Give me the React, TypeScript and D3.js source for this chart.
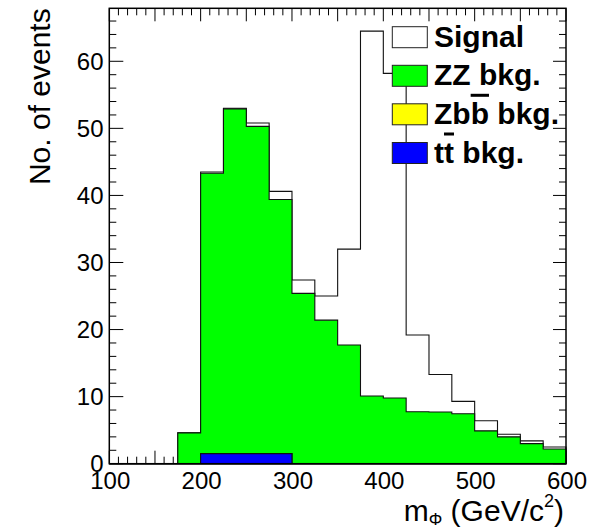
import React from "react";
import * as d3 from "d3";

// bin lower edges (GeV/c^2), bin width 25
const binLow = [100,125,150,175,200,225,250,275,300,325,350,375,400,425,450,475,500,525,550,575];
const binWidth = 25;
// stacked totals as drawn (signal+bkg, ZZ+Zbb+tt, Zbb+tt, tt)
const signalStack = [0,0,0,4.6,43.5,53.0,50.8,40.6,27.4,25.0,32.0,64.5,58.2,19.2,13.3,9.3,6.4,4.4,3.4,2.5];
const zzStack =     [0,0,0,4.6,43.3,52.9,50.3,39.4,25.4,21.4,17.7,10.1,9.8,7.75,7.7,7.45,4.9,4.0,3.0,2.2];
const zbbStack =    [0,0,0,0,1.5,1.5,1.5,1.5,0,0,0,0,0,0,0,0,0,0,0,0];
const ttStack =     [0,0,0,0,1.5,1.5,1.5,1.5,0,0,0,0,0,0,0,0,0,0,0,0];

const xTickLabels = [100,200,300,400,500,600];
const yTickLabels = [0,10,20,30,40,50,60];

const W = 606, H = 529;
const L = 109.3, R = 566, T = 8.3, B = 463.7;
const FONT = "'Liberation Sans', Arial, Helvetica, sans-serif";

const x = d3.scaleLinear().domain([100, 600]).range([L, R]);
const y = d3.scaleLinear().domain([0, 67.9]).range([B, T]);

function stepPath(vals: number[]): string {
  const pts: [number, number][] = [];
  pts.push([binLow[0], 0]);
  vals.forEach((v, i) => {
    pts.push([binLow[i], v]);
    pts.push([binLow[i] + binWidth, v]);
  });
  pts.push([binLow[binLow.length - 1] + binWidth, 0]);
  const line = d3.line<[number, number]>().x(d => x(d[0])).y(d => y(d[1]));
  return line(pts) as string;
}

const layers = [
  { vals: signalStack, fill: "#ffffff" },
  { vals: zzStack, fill: "#00ff00" },
  { vals: zbbStack, fill: "#ffff00" },
  { vals: ttStack, fill: "#0000ff" },
];

export default function App() {
  const xTicks = d3.range(100, 601, 10);
  const yTicks = d3.range(0, 67.9, 2);
  const legend = [
    { fill: "#ffffff", label: [<tspan key="a">Signal</tspan>], cy: 37.2 },
    { fill: "#00ff00", label: [<tspan key="a">ZZ bkg.</tspan>], cy: 75.8 },
    { fill: "#ffff00", label: [<tspan key="a">Zb</tspan>, <tspan key="b" style={{ textDecoration: "overline" }}>b</tspan>, <tspan key="c"> bkg.</tspan>], cy: 114.3 },
    { fill: "#0000ff", label: [<tspan key="a">t</tspan>, <tspan key="b" style={{ textDecoration: "overline" }}>t</tspan>, <tspan key="c"> bkg.</tspan>], cy: 153 },
  ];
  return (
    <svg width={W} height={H} style={{ position: "absolute", left: 0, top: 0, background: "#fff" }} fontFamily={FONT}>
      <rect x={0} y={0} width={W} height={H} fill="#fff" />
      {/* x ticks */}
      {xTicks.map(v => {
        const len = v % 50 === 0 ? 13 : 7;
        return (
          <g key={"xt" + v}>
            <line x1={x(v)} x2={x(v)} y1={B} y2={B - len} stroke="#000" strokeWidth={1} />
            <line x1={x(v)} x2={x(v)} y1={T} y2={T + len} stroke="#000" strokeWidth={1} />
          </g>
        );
      })}
      {/* y ticks */}
      {yTicks.map(v => {
        const major = Math.round(v) % 10 === 0;
        return (
          <g key={"yt" + v}>
            <line x1={L} x2={L + (major ? 14 : 7)} y1={y(v)} y2={y(v)} stroke="#000" strokeWidth={1} />
            <line x1={R} x2={R - (major ? 13 : 7)} y1={y(v)} y2={y(v)} stroke="#000" strokeWidth={1} />
          </g>
        );
      })}
      {layers.map((l, i) => (
        <path key={i} d={stepPath(l.vals) + "Z"} fill={l.fill} stroke="#111" strokeWidth={1.1} strokeLinejoin="miter" />
      ))}
      {/* frame */}
      <rect x={L} y={T} width={R - L} height={B - T} fill="none" stroke="#000" strokeWidth={1.5} />
      {xTickLabels.map(v => (
        <text key={"xl" + v} x={x(v) + 1} y={488.5} fontSize={24} textAnchor="middle" fill="#000">{v}</text>
      ))}
      {yTickLabels.map(v => (
        <text key={"yl" + v} x={103.5} y={y(v) + 8.5} fontSize={24} textAnchor="end" fill="#000">{v}</text>
      ))}
      {/* axis titles */}
      <text transform={`translate(50,${T}) rotate(-90)`} fontSize={30} textAnchor="end" fill="#000">No. of events</text>
      <text x={564} y={521} fontSize={30} textAnchor="end" fill="#000">
        m<tspan fontSize={17} dy={4}>Φ</tspan><tspan dy={-4}> (GeV/c</tspan><tspan fontSize={18} dy={-14}>2</tspan><tspan dy={14}>)</tspan>
      </text>
      {/* legend */}
      {legend.map((e, i) => (
        <g key={"lg" + i}>
          <rect x={392.3} y={e.cy - 10.5} width={35} height={21} fill={e.fill} stroke="#222" strokeWidth={1} />
          <text x={434} y={e.cy + 9.5} fontSize={30} fontWeight="bold" fill="#000">{e.label}</text>
        </g>
      ))}
    </svg>
  );
}
